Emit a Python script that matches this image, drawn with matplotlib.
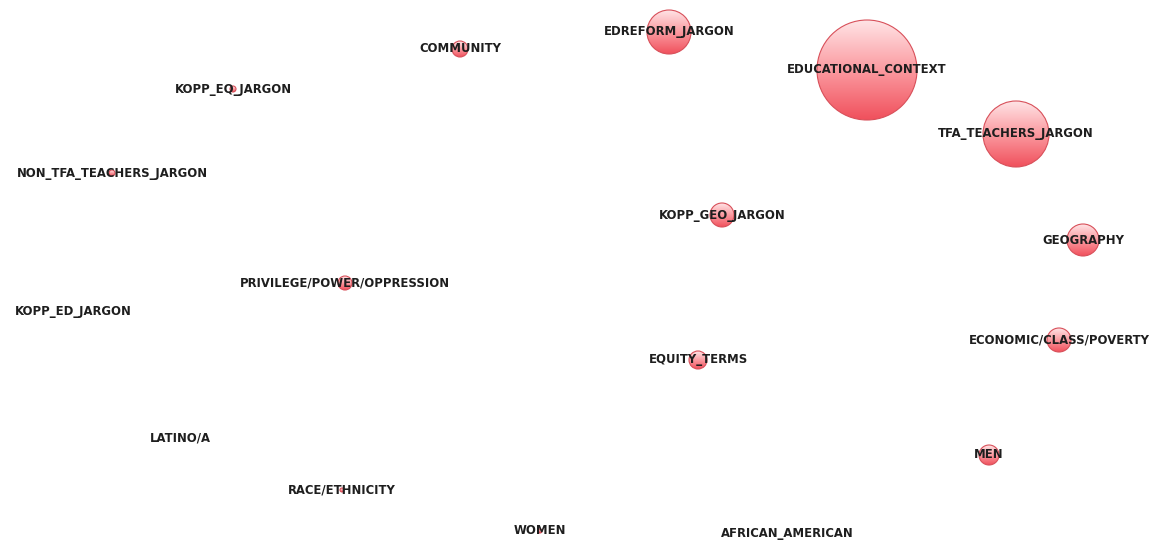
import numpy as np
import matplotlib
matplotlib.use("Agg")
import matplotlib.pyplot as plt
from matplotlib.patches import Circle
from matplotlib.colors import LinearSegmentedColormap

# Node data (layout position in canvas pixels, node radius)
labels = ["EDUCATIONAL_CONTEXT", "TFA_TEACHERS_JARGON", "EDREFORM_JARGON", "COMMUNITY",
          "KOPP_EQ_JARGON", "NON_TFA_TEACHERS_JARGON", "KOPP_GEO_JARGON", "GEOGRAPHY",
          "PRIVILEGE/POWER/OPPRESSION", "KOPP_ED_JARGON", "EQUITY_TERMS",
          "ECONOMIC/CLASS/POVERTY", "LATINO/A", "MEN", "RACE/ETHNICITY", "WOMEN",
          "AFRICAN_AMERICAN"]
x_pos = [867, 1016, 669, 460, 233, 112, 722, 1083, 345, 73, 698, 1059, 180, 989, 342, 540, 787]
y_pos = [70, 134, 32, 49, 89, 173, 215, 240, 283, 312, 360, 340, 438, 455, 490, 531, 534]
radius = [50, 33, 22, 8, 3, 3, 12, 16, 7, 0, 9, 12, 0, 10, 2, 2, 0]

W, H = 1161, 546
fig = plt.figure(figsize=(W / 100, H / 100), dpi=100)
ax = fig.add_axes([0, 0, 1, 1])
ax.set_xlim(0, W)
ax.set_ylim(H, 0)
ax.set_aspect("equal")
ax.axis("off")

cmap = LinearSegmentedColormap.from_list("node", ["#ffe4e6", "#fb9aa0", "#f0505c"])
grad = np.linspace(0, 1, 256).reshape(-1, 1)
grad = np.hstack([grad, grad])

for lab, x, y, r in zip(labels, x_pos, y_pos, radius):
    if r > 0:
        circ = Circle((x, y), r, facecolor="none", edgecolor="#d8505a", lw=0.8, zorder=3)
        ax.add_patch(circ)
        im = ax.imshow(grad, cmap=cmap, extent=(x - r, x + r, y + r, y - r),
                       origin="upper", zorder=2, interpolation="bilinear", aspect="auto")
        clip = Circle((x, y), r, transform=ax.transData)
        im.set_clip_path(clip)
    ax.text(x, y, lab, ha="center", va="center", fontsize=8.4, fontweight="bold",
            color="#1e1e1e", family="DejaVu Sans", zorder=5)

ax.set_xlim(0, W)
ax.set_ylim(H, 0)
fig.savefig("out.png", dpi=100, facecolor="white")
